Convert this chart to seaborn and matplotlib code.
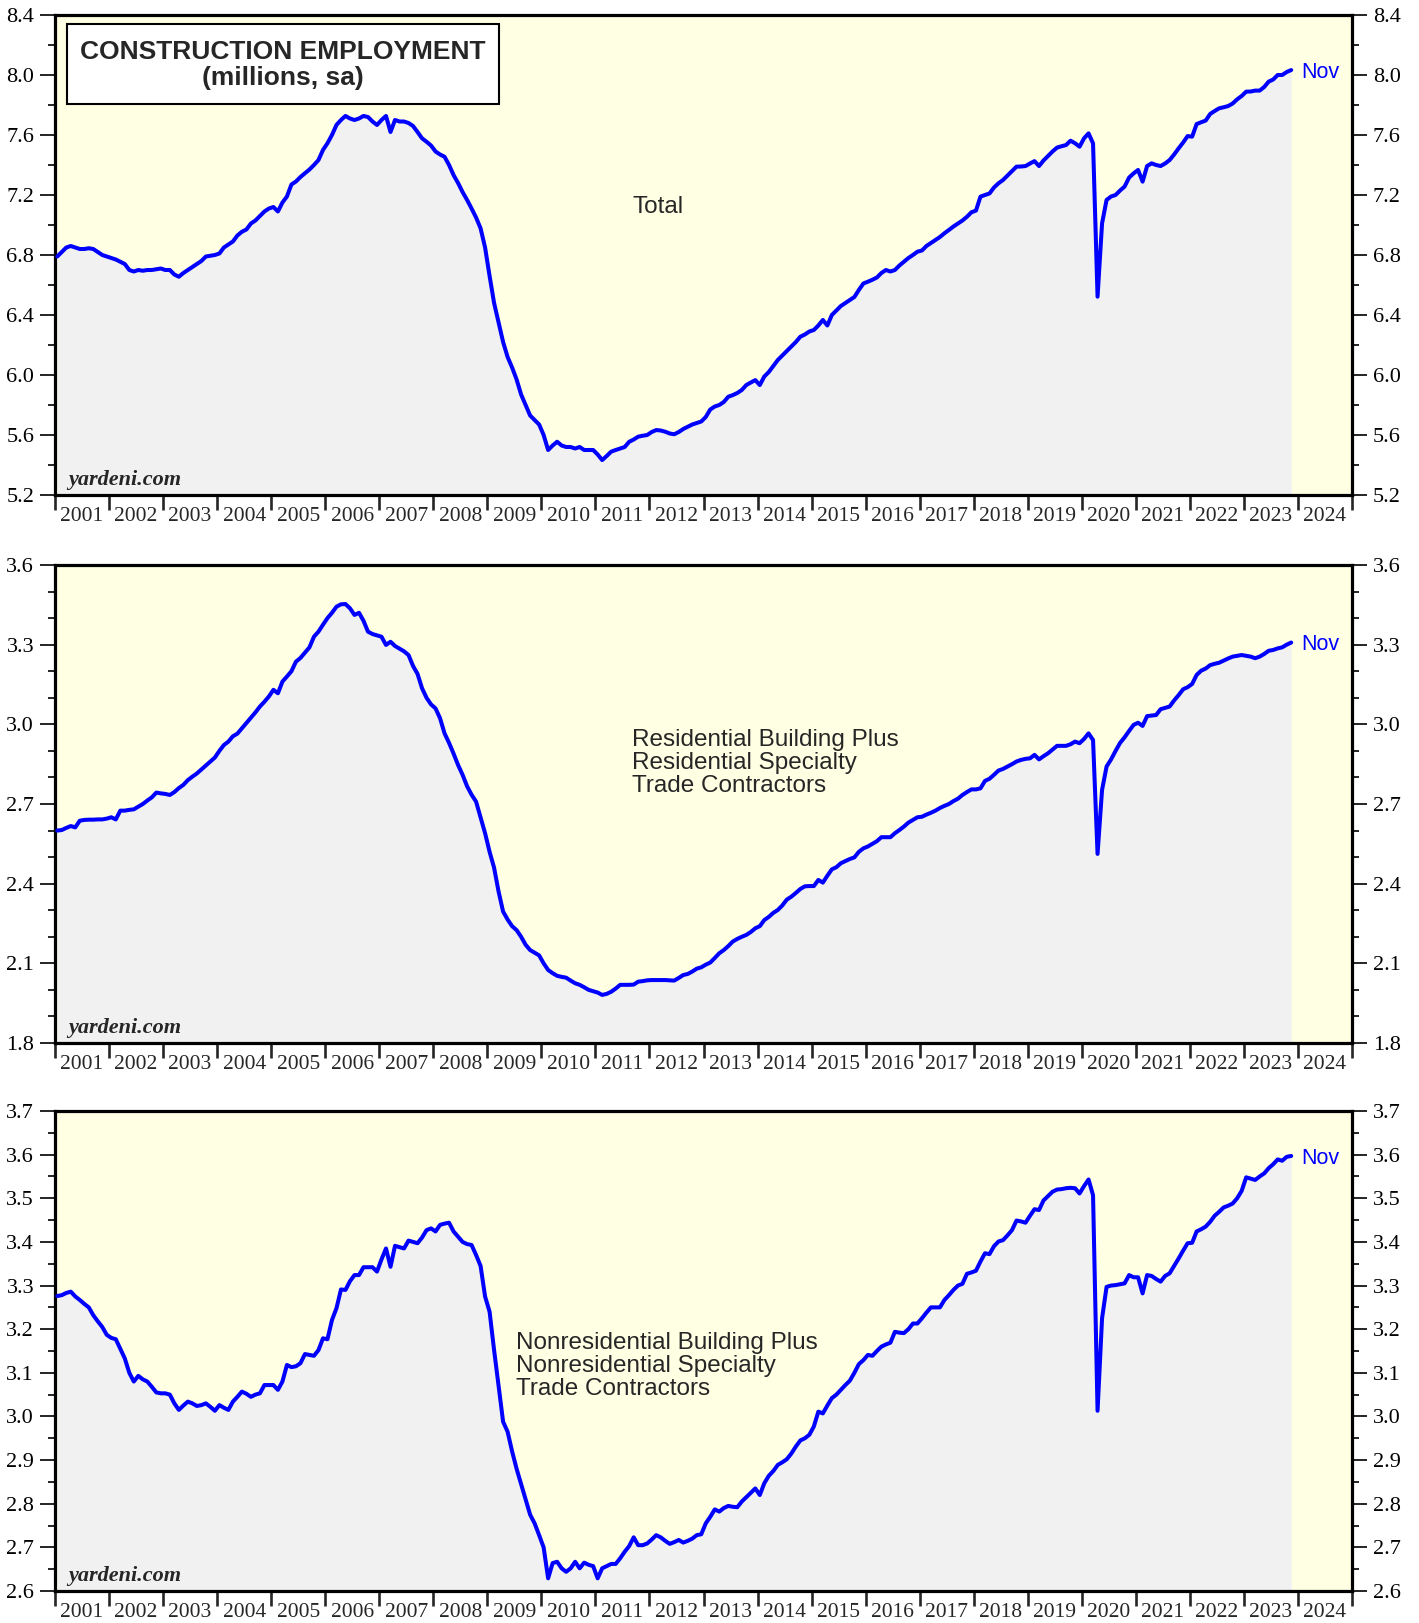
import numpy as np
import pandas as pd
import matplotlib
matplotlib.use("Agg")
import matplotlib.pyplot as plt
import seaborn as sns
from matplotlib.patches import Rectangle
from matplotlib.ticker import FixedLocator, MultipleLocator, FormatStrFormatter, NullFormatter

# ---------------- data (millions, sa), monthly Jan 2001 .. Nov 2023 ----------------
START_YEAR = 2001
LAST_LABEL = "Nov"
YEAR_LABELS = [str(y) for y in range(2001, 2025)]

total = [
    6.79, 6.82, 6.85, 6.86, 6.85, 6.84, 6.84, 6.845, 6.84, 6.82, 6.80, 6.79,      # 2001
    6.78, 6.77, 6.755, 6.74, 6.70, 6.69, 6.70, 6.695, 6.70, 6.70, 6.705, 6.71,    # 2002
    6.70, 6.70, 6.67, 6.655, 6.68, 6.70, 6.72, 6.74, 6.76, 6.79, 6.795, 6.80,     # 2003
    6.81, 6.85, 6.87, 6.89, 6.93, 6.955, 6.97, 7.01, 7.03, 7.06, 7.09, 7.11,      # 2004
    7.12, 7.09, 7.15, 7.19, 7.27, 7.29, 7.32, 7.345, 7.37, 7.40, 7.433, 7.50,     # 2005
    7.545, 7.60, 7.667, 7.70, 7.727, 7.71, 7.70, 7.71, 7.727, 7.72, 7.69, 7.667,  # 2006
    7.70, 7.727, 7.62, 7.70, 7.69, 7.69, 7.68, 7.66, 7.62, 7.578, 7.555, 7.53,    # 2007
    7.49, 7.47, 7.455, 7.40, 7.333, 7.28, 7.22, 7.167, 7.11, 7.05, 6.978, 6.85,   # 2008
    6.66, 6.48, 6.35, 6.22, 6.12, 6.05, 5.97, 5.87, 5.80, 5.73, 5.70, 5.67,       # 2009
    5.60, 5.50, 5.53, 5.555, 5.53, 5.52, 5.52, 5.51, 5.52, 5.50, 5.50, 5.50,      # 2010
    5.47, 5.433, 5.46, 5.489, 5.50, 5.51, 5.52, 5.555, 5.57, 5.589, 5.595, 5.60,  # 2011
    5.62, 5.633, 5.63, 5.622, 5.61, 5.605, 5.62, 5.64, 5.655, 5.67, 5.68, 5.69,   # 2012
    5.72, 5.77, 5.79, 5.80, 5.82, 5.855, 5.866, 5.88, 5.90, 5.933, 5.95, 5.966,   # 2013
    5.933, 5.99, 6.02, 6.06, 6.10, 6.13, 6.16, 6.19, 6.22, 6.255, 6.27, 6.29,     # 2014
    6.30, 6.33, 6.367, 6.33, 6.40, 6.43, 6.46, 6.48, 6.50, 6.52, 6.567, 6.61,     # 2015
    6.622, 6.635, 6.65, 6.68, 6.70, 6.69, 6.70, 6.73, 6.755, 6.78, 6.80, 6.822,   # 2016
    6.83, 6.86, 6.88, 6.90, 6.92, 6.945, 6.967, 6.99, 7.01, 7.03, 7.055, 7.085,   # 2017
    7.096, 7.189, 7.20, 7.21, 7.25, 7.278, 7.30, 7.33, 7.36, 7.389, 7.39, 7.393,  # 2018
    7.41, 7.426, 7.393, 7.43, 7.46, 7.49, 7.516, 7.525, 7.533, 7.562, 7.545, 7.522,  # 2019
    7.578, 7.611, 7.544, 6.522, 7.011, 7.167, 7.19, 7.20, 7.23, 7.256, 7.316, 7.344, # 2020
    7.367, 7.289, 7.393, 7.411, 7.40, 7.393, 7.41, 7.433, 7.47, 7.511, 7.55, 7.593,  # 2021
    7.589, 7.673, 7.685, 7.696, 7.74, 7.76, 7.778, 7.785, 7.793, 7.81, 7.838, 7.86,  # 2022
    7.889, 7.89, 7.896, 7.896, 7.92, 7.956, 7.97, 8.0, 8.0, 8.02, 8.033,             # 2023
]

residential = [
    2.600, 2.602, 2.610, 2.617, 2.612, 2.637, 2.640, 2.641, 2.641, 2.642, 2.642, 2.645,  # 2001
    2.650, 2.642, 2.675, 2.675, 2.678, 2.680, 2.690, 2.700, 2.713, 2.725, 2.743, 2.740,  # 2002
    2.738, 2.734, 2.745, 2.760, 2.772, 2.790, 2.803, 2.815, 2.830, 2.845, 2.860, 2.875,  # 2003
    2.900, 2.922, 2.935, 2.955, 2.965, 2.985, 3.005, 3.025, 3.045, 3.067, 3.085, 3.105,  # 2004
    3.130, 3.117, 3.161, 3.180, 3.200, 3.236, 3.250, 3.270, 3.290, 3.330, 3.349, 3.375,  # 2005
    3.400, 3.420, 3.443, 3.452, 3.453, 3.437, 3.412, 3.420, 3.390, 3.349, 3.340, 3.335,  # 2006
    3.330, 3.299, 3.311, 3.295, 3.285, 3.275, 3.261, 3.220, 3.190, 3.136, 3.100, 3.075,  # 2007
    3.060, 3.023, 2.966, 2.930, 2.890, 2.847, 2.810, 2.767, 2.735, 2.709, 2.650, 2.590,  # 2008
    2.520, 2.460, 2.370, 2.295, 2.265, 2.240, 2.225, 2.200, 2.170, 2.150, 2.140, 2.130,  # 2009
    2.100, 2.075, 2.063, 2.053, 2.049, 2.046, 2.035, 2.025, 2.019, 2.010, 2.000, 1.995,  # 2010
    1.990, 1.981, 1.985, 1.993, 2.005, 2.019, 2.019, 2.019, 2.020, 2.031, 2.033, 2.036,  # 2011
    2.037, 2.037, 2.037, 2.037, 2.036, 2.035, 2.045, 2.056, 2.060, 2.069, 2.080, 2.085,  # 2012
    2.095, 2.103, 2.120, 2.138, 2.150, 2.165, 2.182, 2.192, 2.200, 2.207, 2.218, 2.232,  # 2013
    2.240, 2.263, 2.275, 2.290, 2.301, 2.318, 2.340, 2.351, 2.365, 2.380, 2.390, 2.391,  # 2014
    2.391, 2.414, 2.404, 2.430, 2.454, 2.462, 2.477, 2.485, 2.493, 2.499, 2.520, 2.533,  # 2015
    2.540, 2.550, 2.560, 2.575, 2.575, 2.575, 2.590, 2.602, 2.615, 2.630, 2.640, 2.650,  # 2016
    2.652, 2.660, 2.667, 2.675, 2.685, 2.693, 2.700, 2.711, 2.720, 2.734, 2.745, 2.755,  # 2017
    2.755, 2.759, 2.787, 2.795, 2.810, 2.826, 2.832, 2.841, 2.850, 2.860, 2.866, 2.870,  # 2018
    2.872, 2.885, 2.868, 2.880, 2.891, 2.905, 2.919, 2.919, 2.919, 2.925, 2.935, 2.929,  # 2019
    2.945, 2.966, 2.941, 2.512, 2.753, 2.841, 2.868, 2.900, 2.930, 2.951, 2.975, 2.998,  # 2020
    3.006, 2.994, 3.031, 3.033, 3.035, 3.057, 3.062, 3.067, 3.090, 3.110, 3.132, 3.140,  # 2021
    3.152, 3.186, 3.202, 3.210, 3.223, 3.228, 3.232, 3.240, 3.248, 3.255, 3.258, 3.261,  # 2022
    3.258, 3.255, 3.249, 3.255, 3.265, 3.277, 3.280, 3.286, 3.290, 3.300, 3.308,         # 2023
]

nonresidential = [
    3.276, 3.278, 3.283, 3.286, 3.275, 3.267, 3.258, 3.250, 3.232, 3.218, 3.205, 3.187,  # 2001
    3.180, 3.177, 3.155, 3.133, 3.100, 3.080, 3.093, 3.085, 3.080, 3.068, 3.055, 3.053,  # 2002
    3.053, 3.050, 3.030, 3.015, 3.025, 3.034, 3.030, 3.024, 3.026, 3.030, 3.022, 3.013,  # 2003
    3.026, 3.020, 3.015, 3.034, 3.045, 3.057, 3.052, 3.045, 3.050, 3.053, 3.072, 3.072,  # 2004
    3.072, 3.061, 3.080, 3.118, 3.113, 3.115, 3.122, 3.143, 3.141, 3.139, 3.152, 3.179,  # 2005
    3.177, 3.221, 3.248, 3.291, 3.290, 3.310, 3.324, 3.324, 3.342, 3.342, 3.342, 3.332,  # 2006
    3.360, 3.385, 3.343, 3.391, 3.388, 3.385, 3.403, 3.400, 3.397, 3.410, 3.427, 3.431,  # 2007
    3.424, 3.439, 3.442, 3.444, 3.424, 3.412, 3.400, 3.395, 3.393, 3.370, 3.345, 3.275,  # 2008
    3.240, 3.152, 3.070, 2.988, 2.965, 2.920, 2.880, 2.845, 2.810, 2.775, 2.755, 2.728,  # 2009
    2.700, 2.629, 2.664, 2.667, 2.652, 2.644, 2.652, 2.667, 2.652, 2.665, 2.660, 2.657,  # 2010
    2.629, 2.652, 2.657, 2.662, 2.662, 2.675, 2.690, 2.703, 2.723, 2.705, 2.705, 2.709,  # 2011
    2.718, 2.728, 2.723, 2.715, 2.708, 2.712, 2.717, 2.711, 2.715, 2.720, 2.728, 2.730,  # 2012
    2.755, 2.770, 2.787, 2.782, 2.790, 2.795, 2.793, 2.792, 2.805, 2.815, 2.825, 2.835,  # 2013
    2.820, 2.847, 2.864, 2.875, 2.889, 2.895, 2.902, 2.915, 2.931, 2.945, 2.950, 2.958,  # 2014
    2.977, 3.011, 3.007, 3.025, 3.042, 3.050, 3.061, 3.072, 3.082, 3.100, 3.120, 3.129,  # 2015
    3.141, 3.139, 3.150, 3.160, 3.165, 3.169, 3.194, 3.192, 3.191, 3.200, 3.213, 3.213,  # 2016
    3.225, 3.238, 3.250, 3.250, 3.250, 3.267, 3.278, 3.290, 3.300, 3.304, 3.327, 3.330,  # 2017
    3.334, 3.355, 3.374, 3.372, 3.390, 3.401, 3.404, 3.415, 3.427, 3.449, 3.447, 3.444,  # 2018
    3.460, 3.475, 3.473, 3.495, 3.505, 3.515, 3.520, 3.521, 3.523, 3.524, 3.523, 3.511,  # 2019
    3.528, 3.543, 3.507, 3.013, 3.225, 3.297, 3.300, 3.301, 3.303, 3.305, 3.324, 3.319,  # 2020
    3.319, 3.282, 3.324, 3.322, 3.315, 3.309, 3.322, 3.328, 3.345, 3.362, 3.380, 3.397,  # 2021
    3.398, 3.424, 3.429, 3.435, 3.446, 3.460, 3.469, 3.479, 3.483, 3.488, 3.500, 3.517,  # 2022
    3.548, 3.545, 3.542, 3.550, 3.557, 3.569, 3.578, 3.589, 3.586, 3.595, 3.597,         # 2023
]

total_ylim = (5.2, 8.4, 0.4, 0.2)
res_ylim = (1.8, 3.6, 0.3, 0.1)
nonres_ylim = (2.6, 3.7, 0.1, 0.05)

# ---------------- style ----------------
sns.set_style("ticks")
plt.rcParams["font.family"] = ["Liberation Serif", "DejaVu Serif"]

W, H = 1419, 1623
DPI = 100
fig = plt.figure(figsize=(W / DPI, H / DPI), dpi=DPI)

BG = "#FFFFE4"
FILL = "#F1F1F1"
BLUE = "#0000FF"
SANS = ["Liberation Sans", "DejaVu Sans"]


def rect(left, top, right, bottom):
    return [left / W, 1 - bottom / H, (right - left) / W, (bottom - top) / H]


panels = [
    (rect(55, 15, 1352, 495), total, total_ylim),
    (rect(55, 565, 1352, 1043), residential, res_ylim),
    (rect(55, 1111, 1352, 1591), nonresidential, nonres_ylim),
]

axes = []
for pos, values, (ymin, ymax, major, minor) in panels:
    ax = fig.add_axes(pos)
    axes.append(ax)
    ax.set_facecolor(BG)
    n = len(values)
    t = START_YEAR + (np.arange(n) + 0.5) / 12.0
    df = pd.DataFrame({"t": t, "v": values})
    ax.fill_between(df["t"], df["v"], ymin, color=FILL, lw=0, zorder=1)
    sns.lineplot(data=df, x="t", y="v", ax=ax, color=BLUE, lw=2.9, zorder=3,
                 solid_joinstyle="round", solid_capstyle="round")
    ax.set_xlabel("")
    ax.set_ylabel("")
    ax.set_xlim(2001, 2025)
    ax.set_ylim(ymin, ymax)

    # y axis: both sides
    ax.yaxis.set_major_locator(MultipleLocator(major))
    ax.yaxis.set_minor_locator(MultipleLocator(minor))
    ax.yaxis.set_major_formatter(FormatStrFormatter("%.1f"))
    ax.tick_params(axis="y", which="both", direction="out", left=True, right=True,
                   labelleft=True, labelright=True, labelsize=16, colors="black")
    ax.tick_params(axis="y", which="major", length=11, width=1.2, pad=4)
    ax.tick_params(axis="y", which="minor", length=5, width=1.2)

    # x axis: year boundary ticks, labels centred in each year
    ax.xaxis.set_major_locator(FixedLocator(np.arange(2001, 2026)))
    ax.xaxis.set_major_formatter(NullFormatter())
    ax.xaxis.set_minor_locator(FixedLocator(np.arange(2001, 2025) + 0.5))
    ax.set_xticklabels(YEAR_LABELS, minor=True)
    ax.tick_params(axis="x", which="major", direction="out", length=11, width=1.9,
                   bottom=True, top=False)
    ax.tick_params(axis="x", which="minor", length=0, pad=8.5, labelsize=15.5)

    for sp in ax.spines.values():
        sp.set_linewidth(2.3)
        sp.set_color("black")
        sp.set_visible(True)

    # last-month label
    ax.annotate(LAST_LABEL, xy=(t[-1], values[-1]), xytext=(7, -1.5), textcoords="offset points",
                ha="left", va="center", color=BLUE, fontsize=15.5, family=SANS,
                annotation_clip=False)

    # source
    ax.text(0.0105, 0.02, "yardeni.com", transform=ax.transAxes, fontsize=16,
            fontweight="bold", style="italic", ha="left", va="baseline",
            family=["Liberation Serif", "DejaVu Serif"], zorder=6)

# panel captions
axes[0].text(0.4449, 0.60, "Total", transform=axes[0].transAxes, fontsize=17.5,
             family=SANS, ha="left", va="center", zorder=6)
axes[1].text(0.4449, 0.5858, "Residential Building Plus\nResidential Specialty\nTrade Contractors",
             transform=axes[1].transAxes, fontsize=17.5, family=SANS, ha="left", va="center",
             linespacing=1.05, zorder=6)
axes[2].text(0.3554, 0.46875, "Nonresidential Building Plus\nNonresidential Specialty\nTrade Contractors",
             transform=axes[2].transAxes, fontsize=17.5, family=SANS, ha="left", va="center",
             linespacing=1.05, zorder=6)

# title box
bx0, by0, bx1, by1 = 67, 24, 499, 104
fig.add_artist(Rectangle((bx0 / W, 1 - by1 / H), (bx1 - bx0) / W, (by1 - by0) / H,
                         transform=fig.transFigure, facecolor="white", edgecolor="black",
                         lw=1.5, zorder=10))
fig.text((bx0 + bx1) / 2 / W, 1 - 65 / H, "CONSTRUCTION EMPLOYMENT\n(millions, sa)",
         ha="center", va="center", fontsize=19, fontweight="bold", family=SANS,
         linespacing=1.12, zorder=11)

fig.savefig("out.png", dpi=DPI)
